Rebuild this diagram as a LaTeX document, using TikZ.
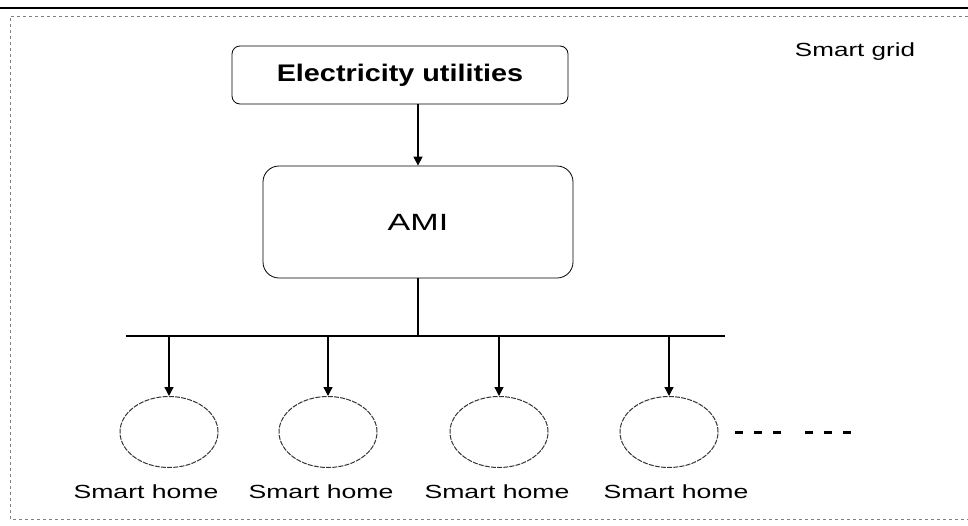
\documentclass[tikz,border=0pt]{standalone}
\usepackage{fontspec}
\usepackage{graphicx}
\setmainfont{Liberation Sans}
\usetikzlibrary{positioning, shapes.geometric, arrows.meta}

% text in the reference is set wide
\newcommand{\widen}[2]{\scalebox{#1}[1]{#2}}

\tikzset{
    box/.style={draw, thick, rounded corners=#1, inner sep=0pt},
    home/.style={draw=black!80, ellipse, line width=1pt, dash pattern=on 5pt off 1.2pt, minimum width=98pt, minimum height=71pt, inner sep=0pt},
    lbl/.style={font=\fontsize{19}{21}\selectfont, inner sep=0pt},
    arr/.style={-{Triangle[length=9pt,width=9pt]}, line width=1.3pt},
}

\begin{document}
\begin{tikzpicture}[x=1pt, y=-1pt]
        \useasboundingbox (0,0) rectangle (968,525);

        % Outer frame
        \draw[line width=2.2pt] (0,8) -- (968,8);
        \draw[gray, dashed, line width=0.8pt] (968,16) -- (10,16) -- (10,519) -- (968,519);
        \node[lbl] (grid) at (855,52) {\widen{1.37}{Smart grid}};

        % Utility and AMI
        \node[box=8pt, minimum width=336pt, minimum height=58pt] (util) at (400,75)
            {\fontsize{24}{26}\selectfont\bfseries\widen{1.2}{Electricity utilities}};
        \node[box=16pt, minimum width=310pt, minimum height=112pt] (ami) at (418,222)
            {\fontsize{23.5}{26}\selectfont\widen{1.45}{AMI}};
        \draw[arr] (ami.north |- util.south) -- (ami.north);

        % Bus
        \coordinate (busL) at (126,336);
        \coordinate (busR) at (725,336);
        \draw[line width=1.3pt] (busL) -- (busR);
        \draw[line width=1.3pt] (ami.south) -- (ami.south |- busL);

        % Smart homes
        \foreach \x/\lx/\n in {169/146/1, 328/321/2, 499/497/3, 669/676/4} {
            \node[home] (h\n) at (\x,432) {};
            \draw[arr] (h\n.north |- busL) -- (h\n.north);
            \node[lbl] (l\n) at (\lx,492) {\widen{1.4}{Smart home}};
        }

        % More homes
        \coordinate (m1) at (735,432);
        \coordinate (m2) at (782,432);
        \coordinate (m3) at (805,432);
        \coordinate (m4) at (852,432);
        \draw[line width=3pt, dash pattern=on 8pt off 11pt] (m1) -- (m2);
        \draw[line width=3pt, dash pattern=on 8pt off 11pt] (m3) -- (m4);
\end{tikzpicture}
\end{document}
